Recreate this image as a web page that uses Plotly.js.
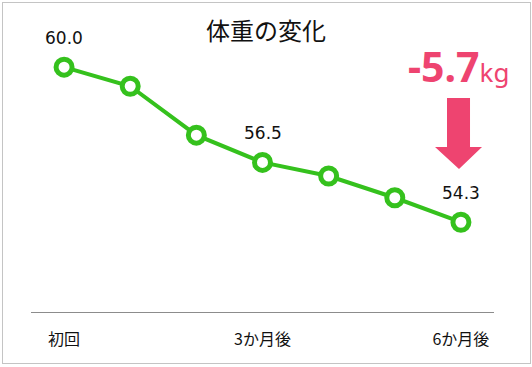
<!DOCTYPE html>
<html>
<head>
<meta charset="utf-8">
<script src="https://cdn.plot.ly/plotly-3.0.1.min.js"></script>
<style>
  html, body { margin: 0; padding: 0; background: #fff; }
  #wrap { position: relative; width: 532px; height: 367px; }
  #chart { position: absolute; left: 0; top: 0; width: 532px; height: 367px; }
  #frame { position: absolute; left: 2px; top: 2px; width: 527px; height: 360px;
           border: 1px solid #c4c4c4; pointer-events: none; }
</style>
</head>
<body>
<div id="wrap"><div id="chart"></div><div id="frame"></div></div>
<script>
// Data
const categories = ['初回', '', '', '3か月後', '', '', '6か月後'];
const weights = [60.0, 59.3, 57.5, 56.5, 56.0, 55.2, 54.3];
const labeledIdx = [0, 3, 6];
const chartTitle = '体重の変化';
const changeValue = '-5.7';
const changeUnit = 'kg';

const W = 532, H = 367;
const M = { l: 31, r: 38, t: 40, b: 55 };
const pw = W - M.l - M.r, ph = H - M.t - M.b;
const px = x => (x - M.l) / pw;
const py = y => 1 - (y - M.t) / ph;

const green = '#35c11d';
const pink = '#ee4470';

const xIdx = categories.map((c, i) => i);

const trace = {
  type: 'scatter',
  mode: 'lines+markers',
  x: xIdx,
  y: weights,
  line: { color: green, width: 4 },
  marker: { size: 16, color: '#ffffff', line: { color: green, width: 5 } },
  hoverinfo: 'skip'
};

const annotations = labeledIdx.map(i => ({
  x: i, y: weights[i], xref: 'x', yref: 'y',
  text: weights[i].toFixed(1),
  showarrow: false, yshift: 29,
  font: { family: 'DejaVu Sans, sans-serif', size: 17, color: '#111' }
}));

annotations.push({
  xref: 'paper', yref: 'paper', x: px(458), y: py(66),
  xanchor: 'center', yanchor: 'middle', showarrow: false,
  text: '<b>' + changeValue + '</b><span style="font-size:26px">' + changeUnit + '</span>',
  font: { family: 'Noto Sans, sans-serif', size: 41, color: pink }
});

// block arrow (decoration)
const ap = [[447,98],[470,98],[470,147],[482,147],[459,169],[435,147],[447,147]];
const arrowPath = 'M ' + ap.map(p => px(p[0]).toFixed(4) + ' ' + py(p[1]).toFixed(4)).join(' L ') + ' Z';

const layout = {
  width: W, height: H,
  margin: M,
  paper_bgcolor: '#ffffff', plot_bgcolor: '#ffffff',
  showlegend: false,
  title: {
    text: chartTitle,
    x: 0.5, xanchor: 'center', y: 1 - 32 / H, yanchor: 'middle', yref: 'container',
    font: { family: 'Noto Sans CJK JP, sans-serif', size: 24, color: '#111' }
  },
  xaxis: {
    range: [-0.5, categories.length - 0.5],
    tickmode: 'array',
    tickvals: labeledIdx,
    ticktext: labeledIdx.map(i => categories[i]),
    showgrid: false, zeroline: false,
    showline: true, linecolor: '#8c8c8c', linewidth: 1,
    ticks: '', ticklabelstandoff: 13,
    tickfont: { family: 'Noto Sans CJK JP, sans-serif', size: 16, color: '#111' },
    fixedrange: true
  },
  yaxis: {
    range: [51, 61],
    showgrid: false, zeroline: false, showline: false,
    showticklabels: false, ticks: '',
    fixedrange: true
  },
  annotations: annotations,
  shapes: [{
    type: 'path', xref: 'paper', yref: 'paper',
    path: arrowPath, fillcolor: pink, line: { width: 0 }
  }]
};

Plotly.newPlot('chart', [trace], layout, { displayModeBar: false, staticPlot: true });
</script>
</body>
</html>
